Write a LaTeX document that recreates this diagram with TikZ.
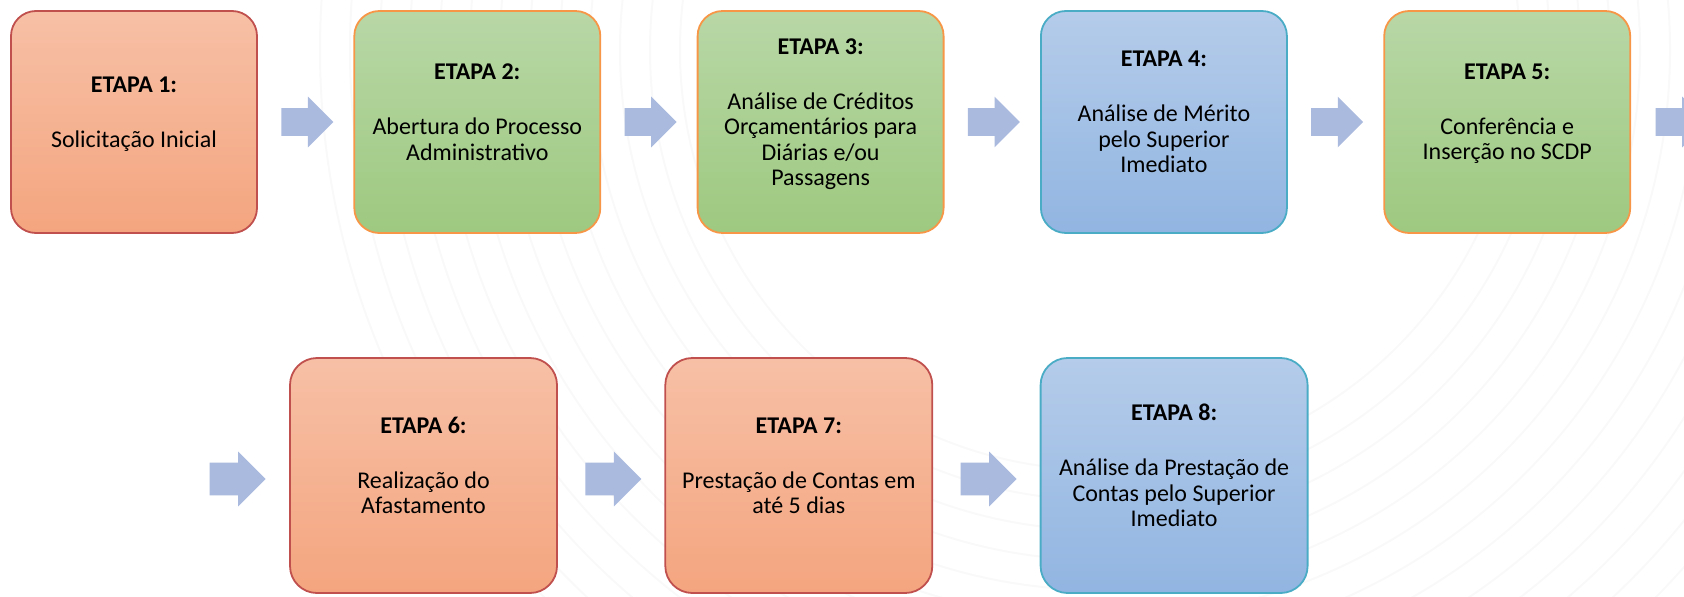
\documentclass[tikz,border=0pt]{standalone}
\usepackage{fontspec}
\setmainfont{Carlito}
\usepackage{xcolor}
\usetikzlibrary{positioning,shapes.arrows}
\definecolor{vermA}{RGB}{247,192,166}
\definecolor{vermB}{RGB}{244,165,127}
\definecolor{vermL}{RGB}{192,80,77}
\definecolor{verdeA}{RGB}{184,215,166}
\definecolor{verdeB}{RGB}{158,201,128}
\definecolor{verdeL}{RGB}{247,150,70}
\definecolor{azulA}{RGB}{181,204,234}
\definecolor{azulB}{RGB}{145,181,225}
\definecolor{azulL}{RGB}{75,172,198}
\definecolor{setaC}{RGB}{170,185,222}
\newcommand{\passo}[2]{\textbf{ETAPA #1:}\\[14.8pt]#2\rule[-10pt]{0pt}{0pt}}
\tikzstyle{centered} = [align=center, text centered, font=\fontsize{12pt}{12.7pt}\selectfont]
\tikzstyle{etapa} = [centered, rectangle, rounded corners=12.5pt, line width=0.9pt, minimum width=123pt, minimum height=111pt, inner sep=0pt]
\tikzset{
  % caixas
  grande/.style={minimum width=133.5pt, minimum height=117.5pt, rounded corners=13.5pt},
  verm/.style={etapa, draw=vermL, top color=vermA, bottom color=vermB},
  verde/.style={etapa, draw=verdeL, top color=verdeA, bottom color=verdeB},
  azul/.style={etapa, draw=azulL, top color=azulA, bottom color=azulB},
  % setas
  seta/.style={single arrow, fill=setaC, draw=none, minimum height=26pt, single arrow head extend=5.75pt, inner xsep=0pt, inner ysep=6.75pt},
  setab/.style={seta, minimum height=28pt, single arrow head extend=5.5pt, inner ysep=8pt, yshift=-1.75pt},
}
\begin{document}
\begin{tikzpicture}[x=0.5pt, y=0.5pt]
        \path[use as bounding box, clip] (0,0) rectangle (1684,596);
        % fundo
        \foreach \r in {420,450,...,780}
            \draw[black!2.5, line width=1pt] (1100,546) circle (\r);
        % 1a linha
        \node(e1)[verm] at (134,474) {\passo{1}{Solicitação Inicial}};
        \node(s1)[seta, right=11.5pt of e1]{};
        \node(e2)[verde, right=47.75pt of e1] {\passo{2}{Abertura do Processo\\Administrativo}};
        \node(s2)[seta, right=11.5pt of e2]{};
        \node(e3)[verde, right=47.75pt of e2] {\passo{3}{Análise de Créditos\\Orçamentários para\\Diárias e/ou\\Passagens}};
        \node(s3)[seta, right=11.5pt of e3]{};
        \node(e4)[azul, right=47.75pt of e3] {\passo{4}{Análise de Mérito\\pelo Superior\\Imediato}};
        \node(s4)[seta, right=11.5pt of e4]{};
        \node(e5)[verde, right=47.75pt of e4] {\passo{5}{Conferência e\\Inserção no SCDP}};
        \node(s5)[seta, right=12pt of e5]{};
        % 2a linha
        \node(e6)[verm, grande] at (423.5,120.5) {\passo{6}{Realização do\\Afastamento}};
        \node(s6)[setab, left=11.5pt of e6]{};
        \node(s7)[setab, right=13.5pt of e6]{};
        \node(e7)[verm, grande, right=53.25pt of e6] {\passo{7}{Prestação de Contas em\\até 5 dias}};
        \node(s8)[setab, right=13.5pt of e7]{};
        \node(e8)[azul, grande, right=53.25pt of e7] {\passo{8}{Análise da Prestação de\\Contas pelo Superior\\Imediato}};
\end{tikzpicture}
\end{document}
